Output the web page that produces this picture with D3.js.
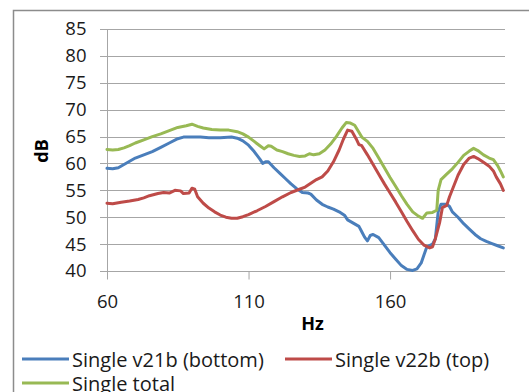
<!DOCTYPE html>
<html>
<head>
<meta charset="utf-8">
<script src="https://cdn.jsdelivr.net/npm/d3@7"></script>
<style>
  html, body { margin: 0; padding: 0; background: #fff; }
  svg { display: block; font-family: "Open Sans", "Liberation Sans", sans-serif; }
</style>
</head>
<body>
<svg id="chart" width="529" height="392"></svg>
<script>
// readings taken off the chart: [Hz, dB]
const v21b = [[60,59.1],[62,59],[64,59.2],[66,59.8],[68,60.4],[70,61],[73,61.6],[76,62.2],[79,63],[82,63.8],[85,64.6],[87,64.9],[90,64.9],[93,64.9],[96,64.8],[100,64.8],[104,64.9],[106,64.7],[108,64.2],[110,63.4],[112,62.2],[114,60.8],[115,60],[116,60.3],[117,60.3],[119,59.2],[121,58.2],[123,57.2],[125,56.2],[127,55.3],[129,54.6],[131,54.5],[132,54.3],[134,53.2],[136,52.4],[138,51.9],[140,51.5],[142,51],[144,50.3],[145,49.5],[147,48.9],[149,48.3],[150,47.3],[151,46.3],[152,45.6],[153,46.6],[154,46.8],[156,46.2],[158,44.8],[160,43.4],[162,42.2],[164,41],[166,40.3],[168,40.1],[169.5,40.4],[171,41.5],[172,43],[173,44.5],[175,45],[176,46],[177,51],[178,52.4],[180,52.4],[181,52],[182,51],[184,50],[186,48.8],[188,47.8],[190,46.8],[192,46],[194,45.5],[196,45.1],[198,44.7],[200,44.3]];

const v22b = [[60,52.6],[62,52.5],[65,52.8],[68,53],[71,53.3],[73,53.6],[75,54],[78,54.4],[80,54.6],[82,54.5],[84,55],[86,54.9],[87,54.4],[89,54.5],[90,55.4],[91,55.2],[92,53.8],[94,52.6],[96,51.7],[98,51],[100,50.4],[102,50],[104,49.8],[106,49.8],[108,50.1],[110,50.5],[113,51.2],[116,52],[119,52.9],[122,53.8],[125,54.6],[128,55.2],[130,55.6],[132,56.3],[134,57],[136,57.5],[138,58.6],[140,60.3],[142,62.5],[143.5,64.5],[145,66.2],[146.5,66],[148,64.6],[149,63.5],[150,63.3],[152,61.6],[154,59.8],[156,58],[158,56.2],[160,54.5],[162,52.8],[164,51],[166,49.2],[168,47.5],[170,45.9],[172,44.8],[174,44.3],[175,44.5],[176,46],[177.5,49],[178.5,51.8],[180,52.2],[181,53.8],[182.5,55.8],[184,57.8],[186,59.8],[188,61],[189.5,61.3],[191,60.9],[193,60.2],[195,59.5],[196.5,58.6],[197.5,57.5],[199,56.2],[200,55]];

const total = [[60,62.6],[62,62.5],[64,62.6],[66,62.9],[68,63.3],[70,63.8],[73,64.4],[76,65],[79,65.5],[82,66.1],[85,66.7],[88,67],[90,67.3],[92,66.9],[94,66.6],[97,66.3],[100,66.2],[103,66.2],[106,65.9],[108,65.5],[110,64.9],[112,64.1],[114,63.3],[115.5,62.7],[117,63.3],[118,63.2],[120,62.5],[122,62.2],[124,61.8],[126,61.5],[128,61.3],[130,61.4],[131.5,61.8],[133,61.6],[135,61.8],[137,62.5],[139,63.6],[141,65],[143,66.6],[144.5,67.6],[146,67.5],[147.5,67.1],[149,65.8],[150,64.9],[152,64.1],[154,62.8],[156,61],[158,59.2],[160,57.4],[162,55.7],[164,54],[166,52.4],[168,51],[170,50.2],[171.5,49.8],[173,50.8],[175,50.9],[176.5,51.3],[177,55],[178,57],[180,58],[182,59],[184,60.2],[186,61.5],[188,62.3],[189.5,62.8],[191,62.4],[193,61.6],[195,61],[196.5,60.7],[198,59.6],[199,58.6],[200,57.5]];

const seriesNames = ['Single v21b (bottom)', 'Single v22b (top)', 'Single total'];
const seriesColors = ['#4a7ebb', '#be4b48', '#98b954'];
const xTicks = [60, 110, 160];
const yTicks = [40, 45, 50, 55, 60, 65, 70, 75, 80, 85];

const svg = d3.select('#chart');

// outer chart frame (only top and left visible in the crop)
svg.append('path')
  .attr('d', 'M13.5,392 V10.5 H529')
  .attr('fill', 'none')
  .attr('stroke', '#8c8c8c')
  .attr('stroke-width', 1.5);

const plot = { left: 107, right: 505, top: 29, bottom: 271 };

const x = d3.scaleLinear().domain([60, 200.6]).range([plot.left, plot.right]);
const y = d3.scaleLinear().domain([40, 85]).range([plot.bottom, plot.top]);

// horizontal gridlines
svg.append('g')
  .selectAll('line')
  .data(yTicks)
  .join('line')
  .attr('x1', plot.left - 7)
  .attr('x2', plot.right)
  .attr('y1', (d) => Math.round(y(d)) + 0.5)
  .attr('y2', (d) => Math.round(y(d)) + 0.5)
  .attr('stroke', '#a6a6a6')
  .attr('stroke-width', 1);

// y axis
const yAxis = svg.append('g')
  .attr('transform', `translate(${plot.left + 0.5},0)`)
  .call(d3.axisLeft(y).tickValues(yTicks).tickSize(7).tickPadding(14));
yAxis.select('.domain').attr('stroke', '#a6a6a6').attr('d', `M0,${plot.top}V${plot.bottom + 8}`);
yAxis.selectAll('.tick line').remove();
yAxis.selectAll('.tick text')
  .attr('fill', '#1a1a1a')
  .style('font-size', '18.5px')
  .style('font-family', '"Open Sans", sans-serif');

// x axis
const xAxis = svg.append('g')
  .attr('transform', `translate(0,${Math.round(plot.bottom) + 0.5})`)
  .call(d3.axisBottom(x).tickValues(xTicks).tickSize(8).tickPadding(15));
xAxis.select('.domain').remove();
xAxis.selectAll('.tick line').attr('stroke', '#a6a6a6');
xAxis.selectAll('.tick text')
  .attr('fill', '#1a1a1a')
  .style('font-size', '18.5px')
  .style('font-family', '"Open Sans", sans-serif');

// axis titles
svg.append('text')
  .attr('transform', 'translate(48,151) rotate(-90)')
  .attr('text-anchor', 'middle')
  .attr('font-weight', 'bold')
  .attr('font-size', 18)
  .text('dB');

svg.append('text')
  .attr('x', 312.5)
  .attr('y', 330)
  .attr('text-anchor', 'middle')
  .attr('font-weight', 'bold')
  .attr('font-size', 18)
  .text('Hz');

// lines
const line = d3.line()
  .x((d) => x(d[0]))
  .y((d) => y(d[1]))
  .curve(d3.curveLinear);

const allSeries = [v21b, v22b, total];
svg.append('g')
  .selectAll('path')
  .data(allSeries)
  .join('path')
  .attr('d', line)
  .attr('fill', 'none')
  .attr('stroke', (d, i) => seriesColors[i])
  .attr('stroke-width', 3)
  .attr('stroke-linejoin', 'round')
  .attr('stroke-linecap', 'round');

// legend
const legendPos = [[22, 359], [285, 359], [22, 383]];
const legend = svg.append('g')
  .selectAll('g')
  .data(seriesNames)
  .join('g')
  .attr('transform', (d, i) => `translate(${legendPos[i][0]},${legendPos[i][1]})`);

legend.append('line')
  .attr('x1', 0)
  .attr('x2', 47)
  .attr('stroke', (d, i) => seriesColors[i])
  .attr('stroke-width', 3);

legend.append('text')
  .attr('x', 50)
  .attr('y', 7.5)
  .attr('font-size', 20)
  .attr('fill', '#1a1a1a')
  .text((d) => d);
</script>
</body>
</html>
